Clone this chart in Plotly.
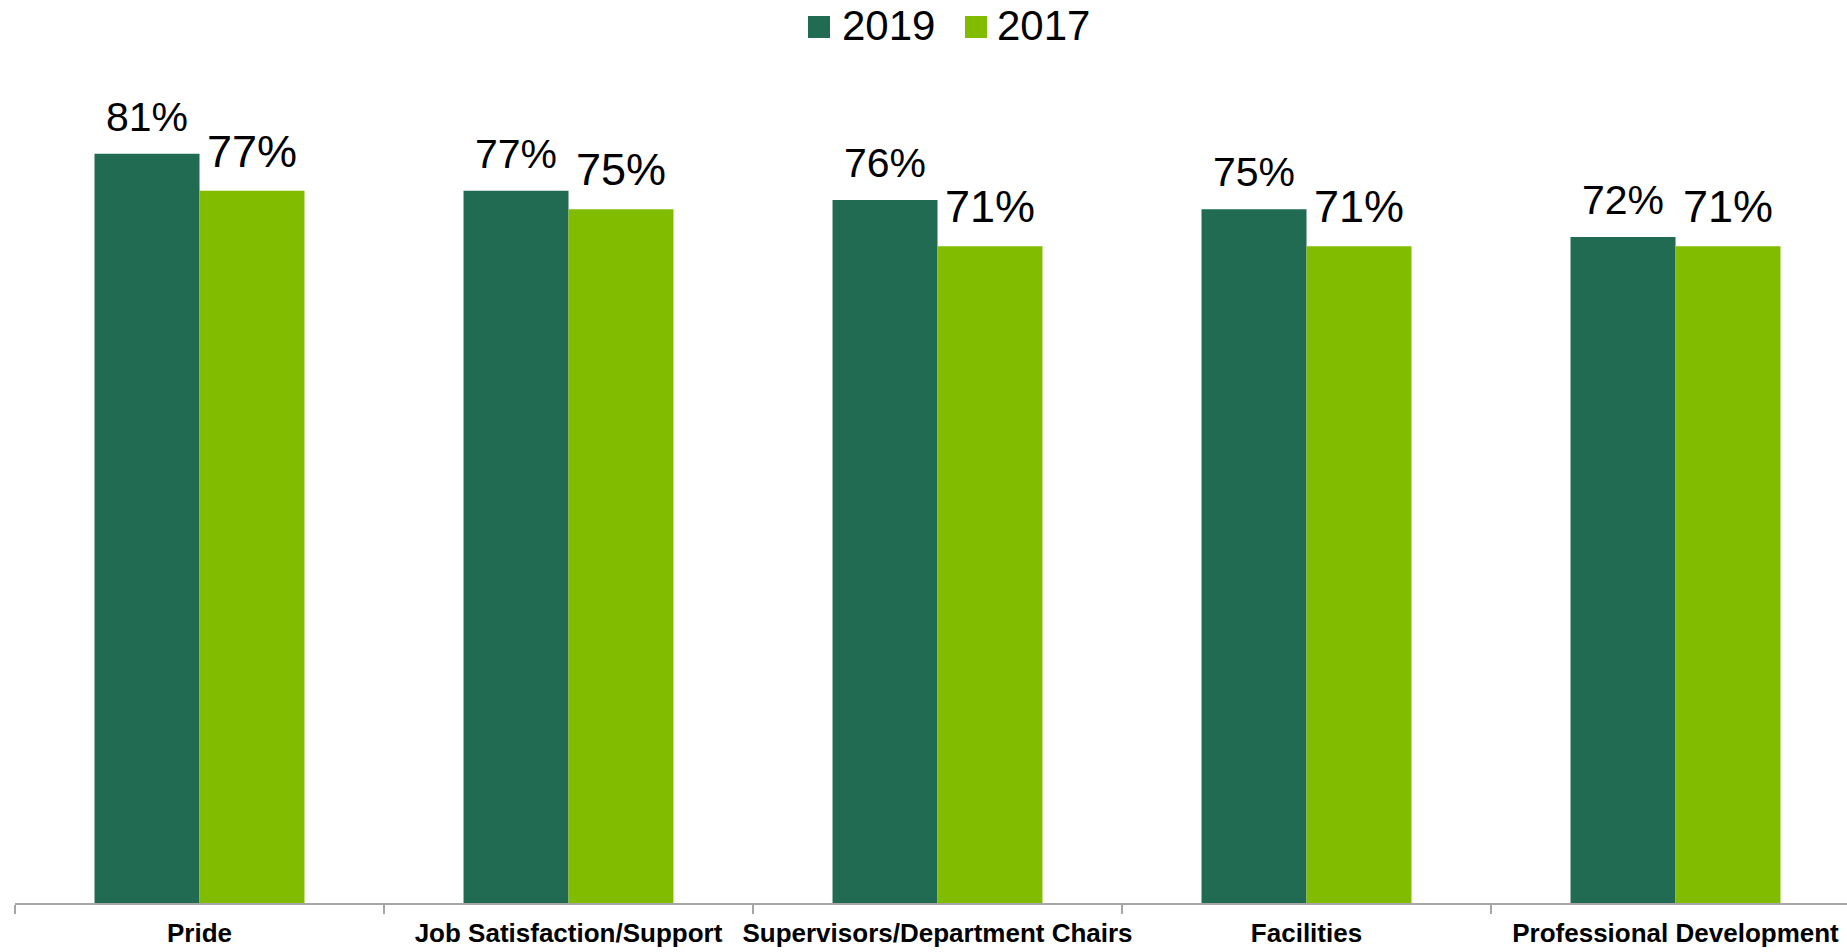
import plotly.graph_objects as go

categories = ["Pride", "Job Satisfaction/Support", "Supervisors/Department Chairs",
              "Facilities", "Professional Development"]
series_names = ["2019", "2017"]
values_2019 = [81, 77, 76, 75, 72]
values_2017 = [77, 75, 71, 71, 71]

colors = {"2019": "#206B51", "2017": "#82BC00"}
label_sizes = {"2019": 41, "2017": 45}
label_shift = {"2019": 12, "2017": 12}
font_family = "Arial, 'Liberation Sans', sans-serif"

W, H = 1847, 952
ml, mr, mt, mb = 15, 0, 89, 49
pw, ph = W - ml - mr, H - mt - mb
cat_px = 369.0
bargap = 0.431
bar_px = cat_px * (1 - bargap) / 2

fig = go.Figure()
series = {"2019": values_2019, "2017": values_2017}
for name in series_names:
    fig.add_trace(go.Bar(
        x=categories, y=series[name], name=name,
        marker=dict(color=colors[name], line=dict(width=0)),
        showlegend=False,
    ))

annotations = []
# data labels above bars
for i, name in enumerate(series_names):
    offset = (i - 0.5) * bar_px
    for cat, v in zip(categories, series[name]):
        annotations.append(dict(
            x=cat, y=v, xref="x", yref="y", xshift=offset, yshift=label_shift[name],
            text=f"{v}%", showarrow=False, xanchor="center", yanchor="bottom",
            font=dict(size=label_sizes[name], color="black", family=font_family),
        ))

# custom legend (larger swatches than plotly's fixed-size bar legend symbols)
def px_x(p):
    return (p - ml) / pw

def px_y(p):
    return (H - mb - p) / ph

shapes = []
legend_items = [("2019", 808, 840), ("2017", 965, 995)]
for name, sq_x, tx_x in legend_items:
    shapes.append(dict(type="rect", xref="paper", yref="paper",
                       x0=px_x(sq_x), x1=px_x(sq_x + 22),
                       y0=px_y(38), y1=px_y(16),
                       fillcolor=colors[name], line=dict(width=0)))
    annotations.append(dict(xref="paper", yref="paper", x=px_x(tx_x), y=px_y(25),
                            xanchor="left", yanchor="middle", text=name, showarrow=False,
                            font=dict(size=42, color="black", family=font_family)))

fig.update_layout(
    width=W, height=H,
    margin=dict(l=ml, r=mr, t=mt, b=mb, pad=0, autoexpand=False),
    barmode="group", bargap=bargap, bargroupgap=0,
    plot_bgcolor="white", paper_bgcolor="white",
    showlegend=False,
    shapes=shapes, annotations=annotations,
    font=dict(family=font_family, color="black"),
    xaxis=dict(
        range=[-0.5, -0.5 + pw / cat_px],
        showline=True, linecolor="#A6A6A6", linewidth=1.5,
        ticks="outside", tickson="boundaries", ticklen=9, tickcolor="#A6A6A6", tickwidth=1.5,
        tickfont=dict(size=26, color="black", family=font_family, weight="bold"),
        tickangle=0, automargin=False, ticklabelstandoff=6,
        showgrid=False, zeroline=False, fixedrange=True,
    ),
    yaxis=dict(
        range=[0, 88], visible=False, showgrid=False, zeroline=False, automargin=False,
    ),
)

fig.write_html("out.html")
